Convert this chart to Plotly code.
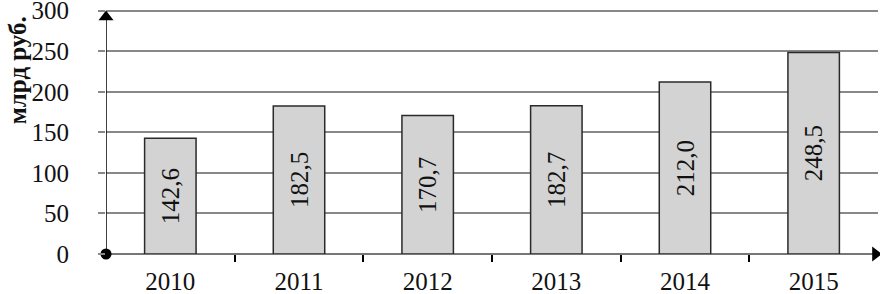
import plotly.graph_objects as go

years = ["2010", "2011", "2012", "2013", "2014", "2015"]
values = [142.6, 182.5, 170.7, 182.7, 212.0, 248.5]
y_ticks = [0, 50, 100, 150, 200, 250, 300]
y_title = "млрд руб."

FONT = "Times New Roman, Liberation Serif, Tinos, serif"
xs = list(range(len(years)))

fig = go.Figure()
fig.add_trace(go.Bar(
    x=xs, y=values, width=0.4,
    marker=dict(color="#d3d3d3", line=dict(color="#2a2a2a", width=1.5)),
    texttemplate="%{y:.1f}", textposition="inside", insidetextanchor="middle",
    textangle=-90, textfont=dict(family=FONT, size=25, color="#111"),
    cliponaxis=False, showlegend=False,
))
fig.add_trace(go.Scatter(
    x=[-0.5, -0.5], y=[0, 296], mode="lines",
    line=dict(color="#000", width=1.5), showlegend=False, hoverinfo="skip",
    cliponaxis=False,
))
fig.add_trace(go.Scatter(
    x=[-0.5], y=[292], mode="markers",
    marker=dict(symbol="triangle-up", size=13, color="#000"),
    showlegend=False, hoverinfo="skip", cliponaxis=False,
))
fig.add_trace(go.Scatter(
    x=[5.48], y=[0], mode="markers",
    marker=dict(symbol="triangle-right", size=13, color="#000"),
    showlegend=False, hoverinfo="skip", cliponaxis=False,
))
fig.add_trace(go.Scatter(
    x=[-0.5], y=[0], mode="markers",
    marker=dict(symbol="circle", size=11, color="#000"),
    showlegend=False, hoverinfo="skip", cliponaxis=False,
))

fig.update_layout(
    width=880, height=294,
    margin=dict(l=106, r=2, t=9, b=40),
    plot_bgcolor="white", paper_bgcolor="white",
    separators=", ",
    font=dict(family=FONT, size=25, color="#111"),
    xaxis=dict(
        range=[-0.5, 5.5], tickvals=xs, ticktext=years, automargin=False,
        showgrid=False, zeroline=False, showline=False, ticks="",
        tickfont=dict(family=FONT, size=25), ticklabelstandoff=10,
        ticklabeloverflow="allow",
        minor=dict(tickvals=[0.5, 1.5, 2.5, 3.5, 4.5], ticks="outside",
                   ticklen=7, tickcolor="#000", tickwidth=1.5, showgrid=False),
    ),
    yaxis=dict(
        range=[0, 302], tickvals=y_ticks, showgrid=True, gridcolor="#888888",
        gridwidth=1.5, zeroline=True, zerolinecolor="#777", zerolinewidth=2,
        ticks="outside", ticklen=7, tickcolor="#888888", tickwidth=1.5,
        tickfont=dict(family=FONT, size=25), ticklabelstandoff=24,
        ticklabeloverflow="allow",
        showline=False, automargin=False,
    ),
    annotations=[dict(
        text="<b>" + y_title + "</b>", xref="paper", yref="paper",
        x=-0.1153, y=0.75, textangle=-90, showarrow=False,
        font=dict(family=FONT, size=25, color="#111"), xanchor="center", yanchor="middle",
    )],
)

fig.write_html(
    "out.html",
    config={"displayModeBar": False},
    post_script="document.body.style.margin='0';document.body.style.padding='0';",
)
